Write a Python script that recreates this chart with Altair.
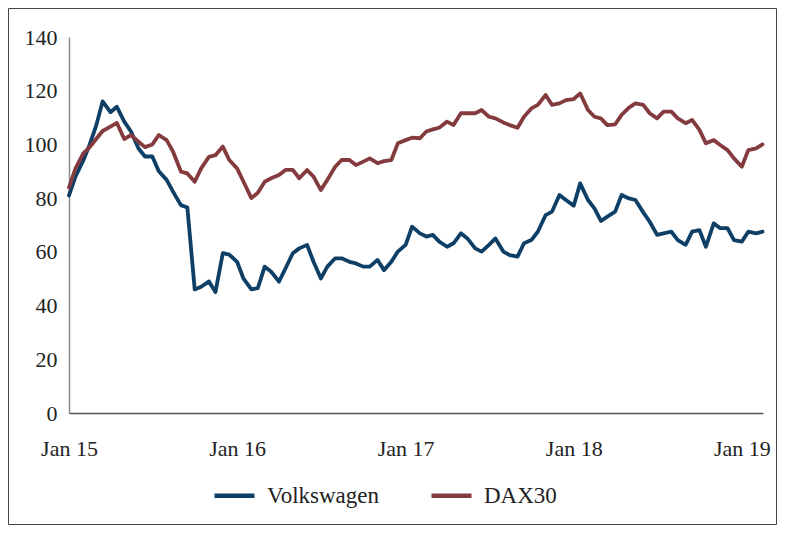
import altair as alt
import pandas as pd

# semi-monthly observation dates (1st and 15th), Jan 2015 - Feb 2019
dates = pd.date_range("2015-01-01", periods=100, freq="SMS")

volkswagen = [
    81, 88, 94, 100, 107, 116, 112, 114, 108.5, 105, 98.5, 95.5, 95.5, 90,
    86.8, 82.4, 77.4, 76.5, 46, 47, 49, 45, 59.5, 59, 56.3, 50, 46, 46.5,
    54.5, 52.6, 48.9, 53.8, 59.5, 61.3, 62.6, 56.3, 50.1, 54.5, 57.6, 57.6, 56.3, 55.7, 54.5,
    54.5, 57, 53.2, 56.3, 60.1, 62.6, 69.4, 66.9, 65.7, 66.3, 63.8, 61.9, 63.2, 66.9,
    65, 61.3, 60.1, 62.6, 65, 60.1, 58.8, 58.2, 63.2, 64.4, 67.5, 73.7, 75, 81.2,
    79.3, 77.2, 85.5, 79.3, 76.2, 71.5, 73.1, 75, 81.2, 79.9, 79.3, 74.7, 71.2, 66.3, 66.9,
    67.5, 64.4, 62.6, 67.5, 68.1, 61.9, 70.6, 68.8, 68.8, 64.4, 63.8, 67.5, 66.9, 67.5,
]

dax30 = [
    84, 91, 96.7, 99, 102, 105, 106.6, 108, 102, 103.5, 101, 99, 100, 103.5,
    101.6, 97.3, 89.9, 89.2, 86.1, 91.1, 95.4, 96, 99.2, 94.2, 91.1, 86.1, 80, 82,
    86.1, 87.4, 88.6, 90.5, 90.5, 87.4, 90.5, 88, 83, 86.8, 91.7, 94.2, 94.2, 92.3, 93.6,
    94.8, 93, 93.8, 94.2, 100.4, 101.6, 102.5, 102.3, 104.8, 105.6, 106.2, 108.5, 107.2, 111.6,
    111.6, 111.6, 112.8, 110.3, 109.7, 108.2, 107.2, 106.2, 110.3, 113.4, 114.7, 118.4, 114.7, 115.3,
    116.5, 116.9, 119, 112.8, 110.3, 109.7, 107.2, 107.5, 111, 113.7, 115.3, 114.7, 111.6, 109.7, 112.2,
    112.2, 109.7, 107.9, 109.1, 105.4, 100.4, 101.6, 99.8, 97.9, 94.8, 91.7, 97.9, 98.5, 100,
]

series_names = ["Volkswagen", "DAX30"]
series_colors = ["#0E3F66", "#843B3E"]
y_ticks = [0, 20, 40, 60, 80, 100, 120, 140]
x_tick_years = [2015, 2016, 2017, 2018, 2019]

df = pd.DataFrame({
    "date": list(dates) * 2,
    "value": volkswagen + dax30,
    "series": ["Volkswagen"] * len(volkswagen) + ["DAX30"] * len(dax30),
})

FONT = "Liberation Serif"
W, H = 694, 376
PAD = {"left": 61, "top": 29, "right": 14, "bottom": 112}

color = alt.Color(
    "series:N",
    scale=alt.Scale(domain=series_names, range=series_colors),
    legend=alt.Legend(
        title=None, orient="none", legendX=143, legendY=436, direction="horizontal",
        symbolType="stroke", symbolSize=1600, symbolStrokeWidth=4.5,
        labelFont=FONT, labelFontSize=23, labelColor="#222222",
        columnPadding=42, labelOffset=10,
    ),
)

base = alt.Chart(df).encode(
    x=alt.X(
        "date:T",
        scale=alt.Scale(domain=[alt.DateTime(year=2015, month=1, date=1),
                                alt.DateTime(year=2019, month=2, date=16)]),
        axis=alt.Axis(
            values=[alt.DateTime(year=yy, month=1, date=1) for yy in x_tick_years],
            format="%b %y", title=None, grid=False, ticks=False,
            domainColor="#555555", domainWidth=1.5,
            labelFont=FONT, labelFontSize=22, labelColor="#222222",
            labelPadding=25, labelOverlap=False, labelFlush=False,
        ),
    ),
    y=alt.Y(
        "value:Q",
        scale=alt.Scale(domain=[0, 140], nice=False),
        axis=alt.Axis(
            values=y_ticks, title=None, grid=False, ticks=False,
            domainColor="#8a8a8a", domainWidth=1.5,
            labelFont=FONT, labelFontSize=22, labelColor="#222222",
            labelPadding=12,
        ),
    ),
    color=color,
)

vw_line = base.transform_filter(alt.datum.series == "Volkswagen").mark_line(
    strokeWidth=3.8, strokeJoin="round", strokeCap="round")
dax_line = base.transform_filter(alt.datum.series == "DAX30").mark_line(
    strokeWidth=3.8, strokeJoin="round", strokeCap="round")

border = alt.Chart(pd.DataFrame({"a": [0]})).mark_rect(
    filled=False, stroke="#444444", strokeWidth=1, clip=False
).encode(
    x=alt.value(-PAD["left"] + 0.5),
    x2=alt.value(W + PAD["right"] - 0.5),
    y=alt.value(-PAD["top"] + 0.5),
    y2=alt.value(H + PAD["bottom"] - 0.5),
)

chart = alt.layer(border, vw_line, dax_line).properties(
    width=W, height=H,
    autosize=alt.AutoSizeParams(type="none"),
    padding=PAD,
).configure_view(stroke=None)

chart.save("out.html", embed_options={"renderer": "svg", "actions": False})
